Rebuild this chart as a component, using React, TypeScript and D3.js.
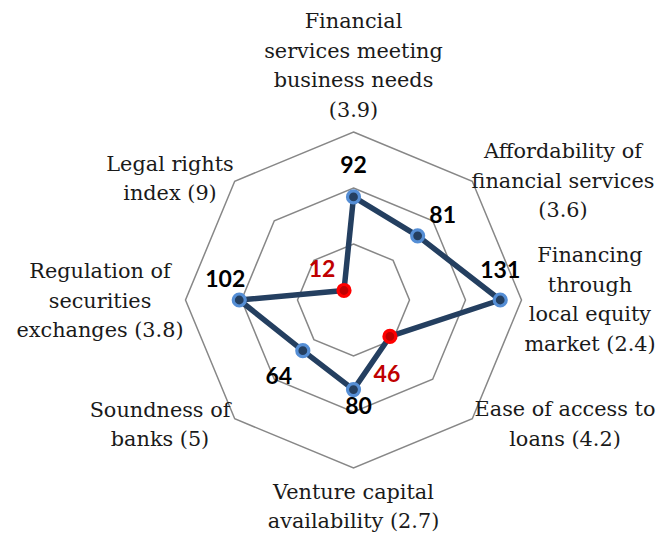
import React, { useEffect, useRef } from "react";
import * as d3 from "d3";

const categories: string[][] = [
  ["Financial", "services meeting", "business needs", "(3.9)"],
  ["Affordability of", "financial services", "(3.6)"],
  ["Financing", "through", "local equity", "market (2.4)"],
  ["Ease of access to", "loans (4.2)"],
  ["Venture capital", "availability (2.7)"],
  ["Soundness of", "banks (5)"],
  ["Regulation of", "securities", "exchanges (3.8)"],
  ["Legal rights", "index (9)"],
];
const ranks: number[] = [92, 81, 131, 46, 80, 64, 102, 12];
const highlighted: boolean[] = [false, false, false, true, false, false, false, true];
const gridLevels: number[] = [50, 100, 150];
const maxValue = 150;

// layout (pixel offsets for text placement)
const catOffsets: [number, number][] = [
  [0, -235], [209.5, -120], [236.5, -1], [211.5, 123.5],
  [0, 206], [-193.5, 124], [-253.5, 0], [-183.5, -122],
];
const valOffsets: [number, number][] = [
  [0, -32], [25, -21], [0, -30], [-3, 37],
  [5, 16], [-24, 25], [-14, -21], [-22, -22],
];

export default function App() {
  const ref = useRef<SVGSVGElement>(null);
  useEffect(() => {
    const svg = d3.select(ref.current);
    svg.selectAll("*").remove();
    const cx = 353.5, cy = 300, R = 168;
    const n = categories.length;
    const r = d3.scaleLinear().domain([0, maxValue]).range([0, R]);
    const angle = (i: number) => (i * 2 * Math.PI) / n;
    const g = svg.append("g").attr("transform", `translate(${cx},${cy})`);

    const radial = d3.lineRadial<number>()
      .angle((_, i) => angle(i))
      .radius((d) => r(d))
      .curve(d3.curveLinearClosed);

    gridLevels.forEach((lv) => {
      g.append("path")
        .attr("d", radial(d3.range(n).map(() => lv)) as string)
        .attr("fill", "none")
        .attr("stroke", "#878787")
        .attr("stroke-width", 1.5);
    });

    g.append("path")
      .attr("d", radial(ranks) as string)
      .attr("fill", "none")
      .attr("stroke", "#243F60")
      .attr("stroke-width", 5.5)
      .attr("stroke-linejoin", "round");

    const pt = (v: number, i: number) => {
      const a = angle(i);
      return [r(v) * Math.sin(a), -r(v) * Math.cos(a)];
    };

    ranks.forEach((v, i) => {
      const [x, y] = pt(v, i);
      g.append("circle")
        .attr("cx", x).attr("cy", y).attr("r", 6)
        .attr("fill", highlighted[i] ? "#C00000" : "#243F60")
        .attr("stroke", highlighted[i] ? "#FF0000" : "#558ED5")
        .attr("stroke-width", 3.2);
    });

    ranks.forEach((v, i) => {
      const [x, y] = pt(v, i);
      g.append("text")
        .attr("x", x + valOffsets[i][0])
        .attr("y", y + valOffsets[i][1])
        .attr("dy", "0.36em")
        .attr("text-anchor", "middle")
        .attr("font-family", "Lato")
        .attr("font-weight", 700)
        .attr("font-size", 23)
        .attr("fill", highlighted[i] ? "#C00000" : "#000")
        .text(String(v));
    });

    const lh = 29.5;
    categories.forEach((lines, i) => {
      const [ox, oy] = catOffsets[i];
      const t = g.append("text")
        .attr("text-anchor", "middle")
        .attr("font-family", "DejaVu Serif")
        .attr("font-size", 20.8)
        .attr("fill", "#1a1a1a");
      lines.forEach((line, j) => {
        t.append("tspan")
          .attr("x", ox)
          .attr("y", oy + (j - (lines.length - 1) / 2) * lh + 7.5)
          .text(line);
      });
    });
  }, []);
  return (
    <svg ref={ref} width={664} height={536}
      style={{ position: "absolute", left: 0, top: 0, background: "#fff" }} />
  );
}
